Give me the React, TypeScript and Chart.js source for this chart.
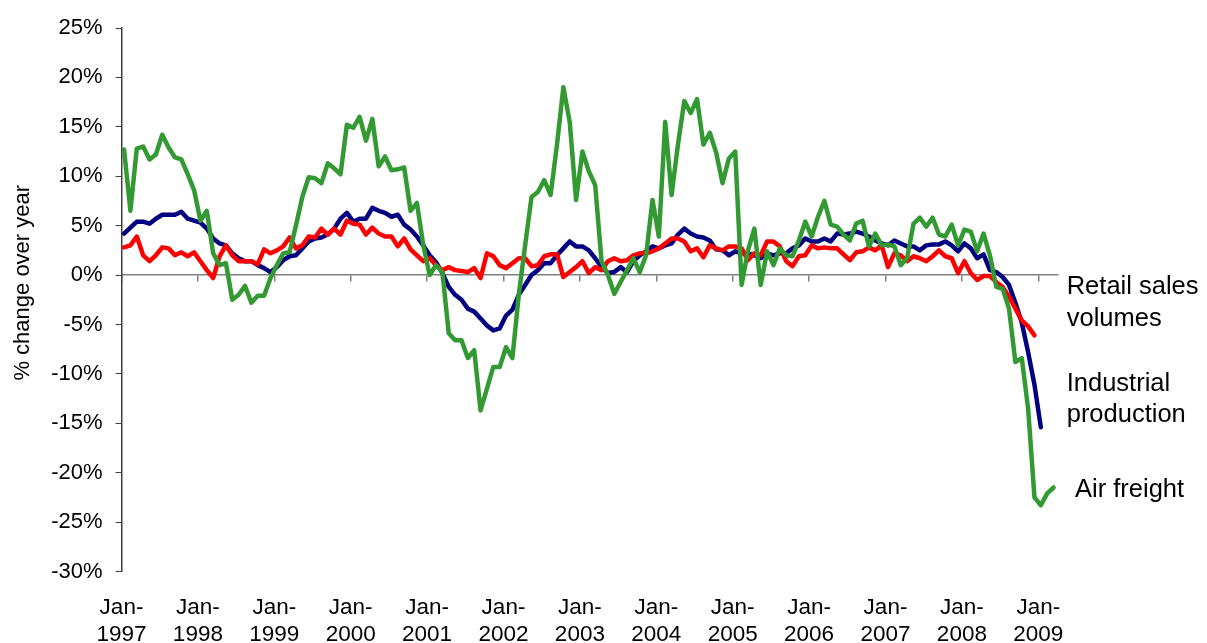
import React, { useEffect, useRef } from 'react';
import { Chart, registerables } from 'chart.js';

Chart.register(...registerables);

// Monthly observations starting January 1997 (index 0 = Jan-1997)
const tickYears = [1997, 1998, 1999, 2000, 2001, 2002, 2003, 2004, 2005, 2006, 2007, 2008, 2009];

const retailSales = [
  2.8, 3.0, 3.9, 2.0, 1.4, 2.0, 2.8, 2.7, 2.0, 2.3, 1.9, 2.3,
  1.4, 0.5, -0.3, 1.9, 3.0, 2.0, 1.4, 1.4, 1.4, 1.1, 2.6, 2.2,
  2.5, 2.9, 3.8, 2.7, 3.0, 3.9, 3.8, 4.7, 4.1, 4.7, 4.1, 5.5,
  5.2, 5.1, 4.1, 4.8, 4.2, 3.9, 3.9, 2.9, 3.7, 2.6, 2.0, 1.4,
  1.7, 1.0, 0.5, 0.8, 0.5, 0.4, 0.3, 0.7, -0.3, 2.2, 1.9, 1.0,
  0.7, 1.2, 1.7, 1.7, 0.9, 1.0, 1.9, 2.1, 2.1, -0.2, 0.3, 0.8,
  1.4, 0.2, 0.8, 0.5, 1.4, 1.7, 1.4, 1.5, 2.0, 2.2, 2.2, 2.4,
  2.7, 3.2, 3.7, 3.7, 3.4, 2.4, 2.7, 1.8, 3.0, 2.7, 2.5, 2.9,
  2.9, 2.7, 1.5, 2.2, 2.0, 3.4, 3.4, 2.9, 1.4, 0.9, 1.9, 2.0,
  3.0, 2.7, 2.8, 2.7, 2.7, 2.1, 1.5, 2.3, 2.4, 2.8, 2.5, 3.0,
  0.8, 2.2, 2.0, 1.4, 1.9, 1.7, 1.4, 1.9, 2.5, 1.9, 1.7, 0.2,
  1.4, 0.2, -0.5, -0.1, -0.1, -0.7, -1.2, -2.2, -3.4, -4.6, -5.2, -6.1,
];

const industrialProduction = [
  4.2, 4.8, 5.4, 5.4, 5.2, 5.7, 6.1, 6.1, 6.1, 6.4, 5.7, 5.5,
  5.3, 4.7, 3.7, 3.2, 3.0, 2.2, 1.7, 1.4, 1.4, 1.0, 0.7, 0.3,
  0.8, 1.5, 1.9, 2.0, 2.7, 3.4, 3.7, 3.8, 4.1, 4.7, 5.7, 6.3,
  5.4, 5.7, 5.7, 6.8, 6.5, 6.3, 5.9, 6.1, 5.1, 4.6, 3.9, 3.0,
  2.0, 1.3, 0.2, -1.2, -2.0, -2.5, -3.4, -3.7, -4.4, -5.1, -5.6, -5.4,
  -4.1, -3.5, -2.0, -1.0, 0.0, 0.5, 1.2, 1.2, 2.0, 2.7, 3.4, 2.9,
  2.9, 2.5, 1.7, 0.8, 0.2, 0.3, 0.8, 0.3, 1.4, 2.0, 2.4, 2.9,
  2.7, 3.0, 3.2, 4.1, 4.7, 4.2, 3.9, 3.8, 3.5, 2.6, 2.5, 2.0,
  2.4, 2.2, 2.2, 2.0, 1.7, 2.2, 2.0, 2.2, 2.2, 2.7, 3.0, 3.7,
  3.4, 3.4, 3.7, 3.4, 4.2, 4.1, 4.2, 4.4, 4.2, 3.9, 3.5, 3.2,
  3.0, 3.5, 3.2, 2.9, 2.9, 2.5, 3.0, 3.1, 3.1, 3.4, 3.0, 2.4,
  3.2, 2.7, 1.7, 2.1, 0.5, 0.3, -0.2, -1.0, -2.8, -4.8, -7.8, -11.1,
  -15.4,
];

const airFreight = [
  12.7, 6.5, 12.8, 13.0, 11.7, 12.2, 14.2, 12.9, 11.9, 11.7, 10.2, 8.6,
  5.5, 6.5, 2.2, 1.0, 1.2, -2.5, -2.0, -1.1, -2.8, -2.1, -2.1, -0.3,
  1.0, 2.2, 2.3, 5.0, 7.9, 9.9, 9.8, 9.3, 11.3, 10.8, 10.2, 15.2,
  14.9, 16.0, 13.6, 15.8, 11.0, 12.0, 10.6, 10.7, 10.9, 6.5, 7.3, 3.0,
  0.0, 1.0, 0.3, -5.9, -6.6, -6.6, -8.4, -7.6, -13.7, -11.5, -9.3, -9.3,
  -7.3, -8.4, -2.0, 3.0, 7.9, 8.4, 9.6, 8.1, 13.2, 19.0, 15.5, 7.6,
  12.5, 10.5, 9.1, 1.4, 0.0, -1.9, -0.7, 0.5, 1.7, 0.3, 2.0, 7.6,
  3.9, 15.5, 8.1, 13.2, 17.6, 16.4, 17.8, 13.2, 14.4, 12.4, 9.3, 11.8,
  12.5, -1.0, 2.5, 4.7, -1.0, 2.4, 1.0, 2.7, 2.0, 1.9, 3.5, 5.4,
  3.9, 5.9, 7.5, 5.1, 4.9, 4.1, 3.5, 5.2, 5.5, 2.9, 4.2, 3.0,
  3.1, 2.9, 1.0, 1.7, 5.2, 5.8, 4.9, 5.8, 4.1, 3.9, 5.1, 3.0,
  4.6, 4.4, 2.4, 4.2, 2.0, -1.2, -1.4, -3.4, -8.8, -8.4, -13.5, -22.5,
  -23.3, -22.1, -21.5,
];

const Y_MIN = -30;
const Y_MAX = 25;
const Y_STEP = 5;
const X_MAX_MONTHS = 147;
const MID_MONTH = 0.4; // observations dated mid-month

const toPoints = (arr: number[]) => arr.map((v, i) => ({ x: i + MID_MONTH, y: v }));
const yearTickValues = tickYears.map((_, i) => i * 12);

const FONT = 'Arial, "Liberation Sans", sans-serif';

const textPlugin = {
  id: 'textPlugin',
  afterDraw(chart: any) {
    const { ctx, chartArea, scales } = chart;
    const ys = scales.y;
    ctx.save();
    ctx.fillStyle = '#000000';
    // Y axis title
    ctx.save();
    ctx.font = `22px ${FONT}`;
    ctx.translate(22.5, (chartArea.top + chartArea.bottom) / 2 - 17);
    ctx.rotate(-Math.PI / 2);
    ctx.textAlign = 'center';
    ctx.textBaseline = 'middle';
    ctx.fillText('% change over year', 0, 0);
    ctx.restore();
    // Series labels at right
    ctx.font = `25.5px ${FONT}`;
    ctx.textAlign = 'left';
    ctx.textBaseline = 'middle';
    const x1 = chartArea.right + 9.3;
    const x2 = chartArea.right + 17.6;
    ctx.fillText('Retail sales', x1, ys.getPixelForValue(-1.19));
    ctx.fillText('volumes', x1, ys.getPixelForValue(-4.4));
    ctx.fillText('Industrial', x1, ys.getPixelForValue(-10.98));
    ctx.fillText('production', x1, ys.getPixelForValue(-14.18));
    ctx.fillText('Air freight', x2, ys.getPixelForValue(-21.78));
    ctx.restore();
  },
};

export default function App() {
  const canvasRef = useRef<HTMLCanvasElement | null>(null);

  useEffect(() => {
    if (!canvasRef.current) return;
    const lineStyle = {
      borderWidth: 4.5,
      pointRadius: 0,
      borderJoinStyle: 'round',
      borderCapStyle: 'round',
      tension: 0,
    };
    const chart = new Chart(canvasRef.current, {
      type: 'line',
      data: {
        datasets: [
          { label: 'Air freight', data: toPoints(airFreight), borderColor: '#339933', ...lineStyle },
          { label: 'Retail sales volumes', data: toPoints(retailSales), borderColor: '#FF0000', ...lineStyle },
          { label: 'Industrial production', data: toPoints(industrialProduction), borderColor: '#000080', ...lineStyle },
        ],
      },
      options: {
        animation: false,
        responsive: false,
        layout: { padding: { top: 28, right: 149.6, left: 0, bottom: 0 } },
        plugins: { legend: { display: false }, tooltip: { enabled: false } },
        scales: {
          x: {
            type: 'linear',
            min: 0,
            max: X_MAX_MONTHS,
            position: 'bottom',
            afterBuildTicks: (s: any) => {
              s.ticks = yearTickValues.map((v) => ({ value: v }));
            },
            afterFit: (s: any) => {
              s.height = 71.5;
            },
            grid: { display: false, drawTicks: false },
            border: { display: false },
            ticks: {
              autoSkip: false,
              maxRotation: 0,
              padding: 23,
              color: '#000000',
              font: { family: FONT, size: 22.5, lineHeight: 1.2 },
              callback: (v: any) => {
                const idx = Math.round(Number(v) / 12);
                return ['Jan-', String(tickYears[idx])];
              },
            },
          },
          x2: {
            type: 'linear',
            axis: 'x',
            min: 0,
            max: X_MAX_MONTHS,
            position: { y: 0 },
            afterBuildTicks: (s: any) => {
              s.ticks = yearTickValues.map((v) => ({ value: v }));
            },
            grid: { drawOnChartArea: false, drawTicks: true, tickLength: 6, color: '#808080', lineWidth: 1.5 },
            border: { display: true, color: '#808080', width: 1.5 },
            ticks: { display: false },
          },
          y: {
            type: 'linear',
            min: Y_MIN,
            max: Y_MAX,
            position: 'left',
            afterFit: (s: any) => {
              s.width = 121.5;
            },
            grid: { drawOnChartArea: false, drawTicks: true, tickLength: 6, color: '#404040' },
            border: { display: true, color: '#404040', width: 1.5 },
            ticks: {
              stepSize: Y_STEP,
              padding: 13,
              color: '#000000',
              font: { family: FONT, size: 22 },
              callback: (v: any) => `${v}%`,
            },
          },
        },
      } as any,
      plugins: [textPlugin],
    });
    return () => chart.destroy();
  }, []);

  return (
    <div style={{ position: 'absolute', left: 0, top: 0, width: 1207, height: 643, background: '#ffffff' }}>
      <canvas ref={canvasRef} width={1207} height={643} style={{ display: 'block' }} />
    </div>
  );
}
